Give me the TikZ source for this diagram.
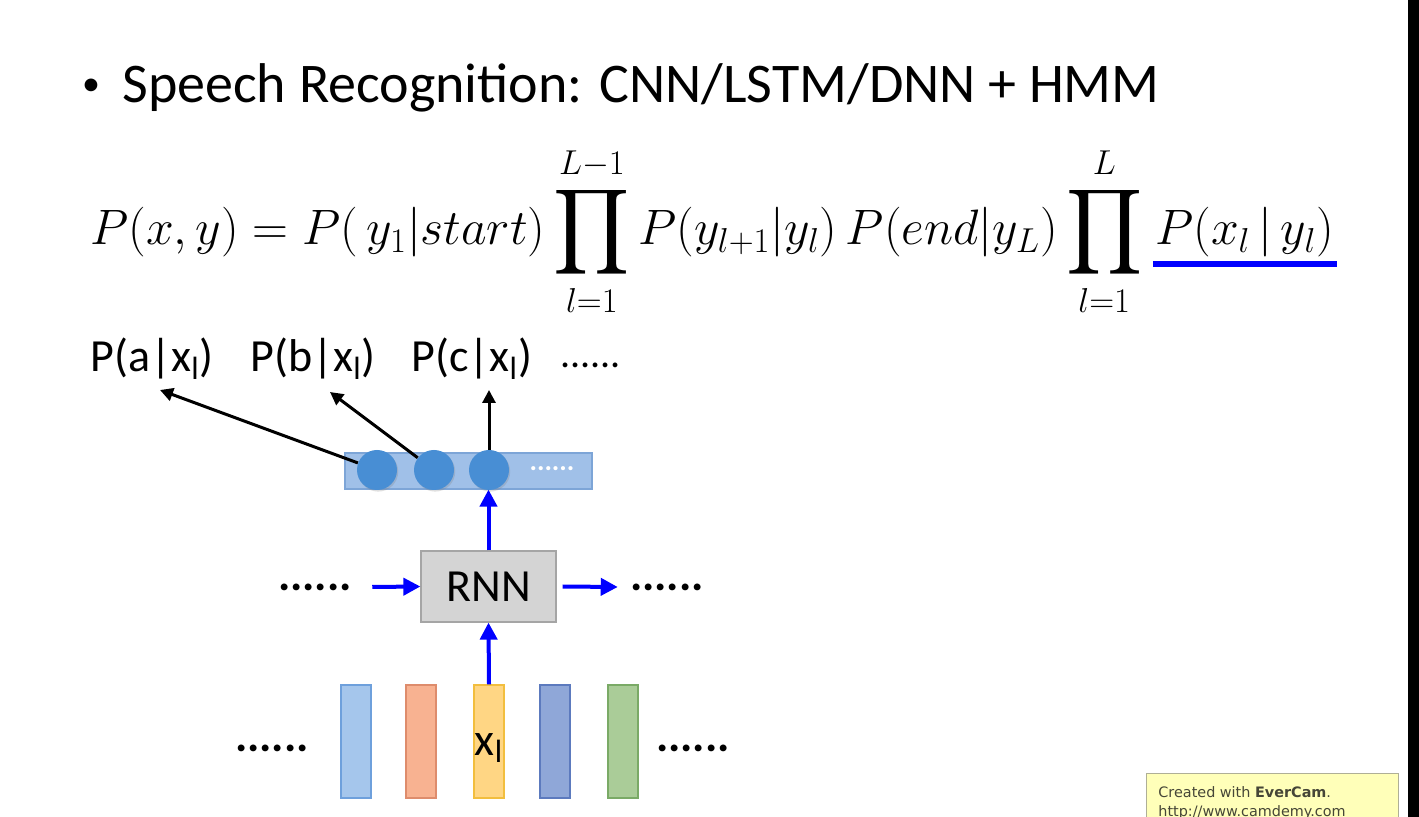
\documentclass[tikz,border=0pt]{standalone}
\usepackage{amsmath}
\usepackage{graphicx}
\usepackage{fontspec}
\setmainfont{Carlito}
\newfontfamily\wmfont{DejaVu Sans}
\usetikzlibrary{arrows.meta,shadows,calc}
\newcommand{\bigprod}{\mathop{\vcenter{\hbox{\scalebox{1.2}{$\displaystyle\prod$}}}}\limits}
\definecolor{layerfill}{RGB}{160,192,232}
\definecolor{layerdraw}{RGB}{125,165,215}
\definecolor{neuronfill}{RGB}{72,142,212}
\definecolor{rnnfill}{RGB}{212,212,212}
\definecolor{rnndraw}{RGB}{165,165,165}
\definecolor{fbluefill}{RGB}{165,198,236}
\definecolor{fbluedraw}{RGB}{110,160,220}
\definecolor{forangefill}{RGB}{248,178,145}
\definecolor{forangedraw}{RGB}{222,140,108}
\definecolor{fyellowfill}{RGB}{255,214,132}
\definecolor{fyellowdraw}{RGB}{242,190,62}
\definecolor{fnavyfill}{RGB}{143,167,216}
\definecolor{fnavydraw}{RGB}{92,122,190}
\definecolor{fgreenfill}{RGB}{170,204,152}
\definecolor{fgreendraw}{RGB}{122,170,102}
\definecolor{wmfill}{RGB}{255,255,185}
\definecolor{wmdraw}{RGB}{175,175,150}
\definecolor{wmtext}{RGB}{70,70,55}
\begin{document}
\begin{tikzpicture}[x=0.5pt,y=-0.5pt,
  txt/.style={inner sep=0pt, font=\fontsize{23}{28}\selectfont},
  layerbox/.style={draw=layerdraw, fill=layerfill, line width=0.6pt, minimum width=123.5pt, minimum height=18pt, inner sep=0pt},
  neuron/.style={circle, fill=neuronfill, minimum size=20pt, inner sep=0pt, drop shadow={opacity=0.25, shadow xshift=0.6pt, shadow yshift=-0.8pt}},
  rnnbox/.style={draw=rnndraw, fill=rnnfill, line width=0.6pt, minimum width=67.5pt, minimum height=35.5pt, inner sep=0pt, font=\fontsize{23}{28}\selectfont},
  frame/.style={line width=0.6pt, minimum width=15pt, minimum height=56.5pt, inner sep=0pt},
  blk/.style={black, line width=1.5pt, -{Triangle[length=6.5pt,width=6.5pt]}},
  blu/.style={blue, line width=2pt, -{Triangle[length=8.5pt,width=8.5pt]}},
  dots/.style={inner sep=0pt, font=\fontsize{23}{28}\selectfont\bfseries},
  eqfont/.style={inner sep=0pt, font=\fontsize{26}{31}\selectfont},
]
\useasboundingbox (0,0) rectangle (1419,817);
\fill[white] (0,0) rectangle (1419,817);
\fill[black] (1408,0) rectangle (1419,817);

% title
\node[inner sep=0pt, font=\fontsize{18}{22}\selectfont] (bullet) at (91,87) {\textbullet};
\node[anchor=base west, inner sep=0pt, font=\fontsize{28}{34}\selectfont] (title) at (122,103) {Speech Recognition: CNN/LSTM/DNN + HMM};

% equation
\node[anchor=base west, eqfont] (eq1) at (90,245)
  {$P(x,y)=P(\,y_1|start)\bigprod_{l=1}^{L-1}P(y_{l+1}|y_l)\,P(end|y_L)\bigprod_{l=1}^{L}$};
\node[anchor=base west, eqfont] (eq2) at ($(eq1.base east)+(12,0)$)
  {$P(x_l\,|\,y_l)$};
\draw[blue, line width=3.3pt] ($(eq2.base west)+(-2,19)$) -- ($(eq2.base east)+(2,19)$);

% output labels
\node[txt, anchor=base west] (pa) at (90,372) {P(a|x\textsubscript{l})};
\node[txt, anchor=base west] (pb) at (250,372) {P(b|x\textsubscript{l})};
\node[txt, anchor=base west] (pc) at (411,372) {P(c|x\textsubscript{l})};
\node[txt, anchor=base west, font=\fontsize{20}{24}\selectfont] (pd) at (560,368) {......};
\coordinate (ta) at (160,390);
\coordinate (tb) at (330,392);
\coordinate (tc) at (489,390);

% output layer
\node[layerbox] (layer) at (468.5,471) {};
\node[neuron] (n1) at (377,470) {};
\node[neuron] (n2) at (434,470) {};
\node[neuron] (n3) at (489,470) {};
\node[inner sep=0pt, text=white, font=\fontsize{14}{16}\selectfont\bfseries] (wd) at (552,469) {......};

\draw[blk] (n1) -- (ta);
\draw[blk] (n2) -- (tb);
\draw[blk] (n3) -- (tc);

% RNN
\node[rnnbox] (rnn) at (488.5,586.5) {RNN};
\node[dots] (ld) at (315,587) {......};
\node[dots] (rd) at (667,587) {......};
\draw[blu] (ld.east) ++(20,0) coordinate (lstart) -- (rnn.west);
\draw[blu] (rnn.east) ++(6,0) coordinate (rstart) -- ($(rd.west)+(-12,0)$) coordinate (rend);
\draw[blu] (rnn.north) -- (layer.south -| rnn.north);

% input frames
\node[frame, draw=fbluedraw, fill=fbluefill] (f1) at (356,741.5) {};
\node[frame, draw=forangedraw, fill=forangefill] (f2) at (421,741.5) {};
\node[frame, draw=fyellowdraw, fill=fyellowfill] (f3) at (489,741.5) {};
\node[txt] (xl) at (489,748) {x\textsubscript{l}};
\node[frame, draw=fnavydraw, fill=fnavyfill] (f4) at (555,741.5) {};
\node[frame, draw=fgreendraw, fill=fgreenfill] (f5) at (623,741.5) {};
\node[dots] (ild) at (272,748) {......};
\node[dots] (ird) at (693,748) {......};
\draw[blu] (f3.north) -- (rnn.south);

% watermark
\begin{scope}
\clip (1140,760) rectangle (1405,817);
\node[draw=wmdraw, fill=wmfill, line width=0.6pt, minimum width=126pt, minimum height=30pt, inner sep=0pt, anchor=north west] (wm) at (1146,773) {};
\node[anchor=base west, inner sep=0pt, text=wmtext, font=\wmfont\fontsize{7.2}{9}\selectfont] (wm1) at (1158,797) {Created with \textbf{EverCam}.};
\node[anchor=base west, inner sep=0pt, text=wmtext, font=\wmfont\fontsize{7.2}{9}\selectfont] (wm2) at (1158,816) {http://www.camdemy.com};
\end{scope}
\end{tikzpicture}
\end{document}
